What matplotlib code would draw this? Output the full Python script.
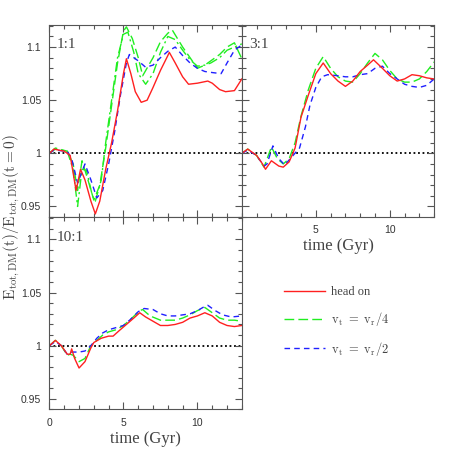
import matplotlib.pyplot as plt
from matplotlib.ticker import MultipleLocator, FuncFormatter

plt.rcParams['mathtext.fontset'] = 'cm'

# ---- 1:1 merger ----
t11_red = [0, 0.3, 1.0, 1.4, 1.8, 2.1, 2.4, 2.8, 3.1, 3.4, 3.8, 4.2, 4.6, 5.0, 5.2, 5.5, 5.8, 6.2,
           6.6, 7.0, 7.5, 8.0, 8.1, 8.5, 9.0, 9.4, 10.0, 10.7, 11.0, 11.5, 11.9, 12.5, 13.0]
e11_red = [1.0, 1.004, 1.002, 0.998, 0.965, 0.985, 0.975, 0.955, 0.943, 0.955, 0.985, 1.01, 1.04,
           1.075, 1.089, 1.075, 1.058, 1.048, 1.05, 1.062, 1.078, 1.092, 1.095, 1.085, 1.072, 1.065,
           1.066, 1.068, 1.066, 1.06, 1.058, 1.059, 1.07]
t11_blue = [0, 0.3, 1.2, 1.5, 1.9, 2.4, 2.8, 3.2, 3.6, 4.0, 4.4, 4.8, 5.2, 5.4, 6.0, 6.5, 7.0, 7.5,
            8.0, 8.5, 9.0, 9.5, 10.0, 10.5, 11.0, 11.6, 12.0, 12.5, 13.0]
e11_blue = [1.0, 1.003, 1.002, 0.995, 0.972, 0.99, 0.975, 0.958, 0.965, 0.99, 1.02, 1.055, 1.085,
            1.093, 1.087, 1.081, 1.083, 1.09, 1.096, 1.1, 1.092, 1.085, 1.08, 1.077, 1.076, 1.075,
            1.085, 1.097, 1.102]
t11_green = [0, 0.4, 1.2, 1.6, 1.9, 2.2, 2.6, 3.0, 3.4, 3.8, 4.2, 4.6, 5.0, 5.2, 5.6, 6.0, 6.3,
             7.0, 7.5, 8.0, 8.3, 9.0, 9.5, 10.0, 10.5, 11.0, 11.5, 12.0, 12.5, 13.0]
e11_green = [1.0, 1.005, 1.002, 0.99, 0.965, 0.993, 0.975, 0.956, 0.97, 1.005, 1.045, 1.085, 1.115,
             1.119, 1.108, 1.09, 1.073, 1.09, 1.105, 1.113, 1.116, 1.1, 1.09, 1.08, 1.083, 1.088,
             1.093, 1.1, 1.104, 1.089]
t11_green2 = [0, 0.4, 1.2, 1.6, 1.9, 2.2, 2.5, 2.9, 3.1, 3.5, 3.8, 4.2, 4.6, 5.0, 5.3, 5.7, 6.0,
              6.5, 7.0, 7.5, 8.0, 8.5, 9.0, 9.5, 10.0, 10.5, 10.9, 11.5, 12.0, 12.5, 13.0]
e11_green2 = [1.0, 1.004, 1.002, 0.985, 0.95, 0.985, 0.984, 0.96, 0.955, 0.975, 1.01, 1.05, 1.09,
              1.112, 1.114, 1.095, 1.075, 1.065, 1.075, 1.095, 1.11, 1.107, 1.097, 1.088, 1.082,
              1.083, 1.085, 1.09, 1.097, 1.1, 1.103]

# ---- 3:1 merger ----
t31_red = [0, 0.4, 1.0, 1.4, 1.6, 2.0, 2.5, 2.8, 3.2, 3.6, 4.0, 4.5, 5.0, 5.5, 6.0, 6.5, 7.0, 7.5,
           8.0, 8.5, 8.9, 9.5, 10.0, 10.5, 11.0, 11.5, 12.0, 12.5, 13.0]
e31_red = [1.0, 1.004, 0.998, 0.99, 0.985, 0.993, 0.988, 0.987, 0.992, 1.005, 1.034, 1.055, 1.075,
           1.085, 1.075, 1.068, 1.063, 1.068, 1.077, 1.083, 1.088, 1.08, 1.073, 1.068, 1.07, 1.074,
           1.073, 1.071, 1.07]
t31_green = [0, 0.4, 1.0, 1.5, 2.0, 2.4, 2.8, 3.2, 3.6, 4.0, 4.5, 5.0, 5.5, 6.0, 6.5, 7.0, 7.5,
             8.0, 8.5, 9.0, 9.5, 10.0, 10.5, 11.0, 11.5, 12.0, 12.5, 13.0]
e31_green = [1.0, 1.004, 0.998, 0.987, 1.006, 0.995, 0.99, 0.995, 1.01, 1.035, 1.06, 1.08, 1.091,
             1.08, 1.072, 1.068, 1.067, 1.075, 1.085, 1.094, 1.088, 1.078, 1.07, 1.067, 1.067,
             1.07, 1.077, 1.086]
t31_blue = [0, 0.4, 1.0, 1.5, 1.7, 2.1, 2.5, 2.9, 3.4, 3.9, 4.3, 4.6, 5.0, 5.4, 5.8, 6.5, 7.0, 7.5,
            8.0, 8.5, 9.0, 9.5, 10.0, 10.5, 11.0, 11.5, 12.0, 12.5, 13.0]
e31_blue = [1.0, 1.003, 0.998, 0.988, 0.99, 1.007, 0.995, 0.989, 0.997, 1.005, 1.025, 1.045, 1.062,
            1.072, 1.074, 1.073, 1.072, 1.072, 1.074, 1.075, 1.08, 1.082, 1.075, 1.07, 1.065,
            1.063, 1.062, 1.064, 1.07]

# ---- 10:1 merger ----
t101_red = [0, 0.4, 0.8, 1.2, 1.4, 1.5, 1.7, 2.0, 2.4, 2.8, 3.0, 3.5, 4.0, 4.3, 4.7, 5.2, 5.7, 6.1,
            6.5, 7.0, 7.5, 8.0, 8.5, 9.0, 9.5, 10.0, 10.5, 11.0, 11.5, 12.0, 12.5, 13.0]
e101_red = [1.0, 1.005, 1.0, 0.992, 0.992, 0.997, 0.988, 0.979, 0.985, 0.998, 1.003, 1.007, 1.009,
            1.009, 1.014, 1.02, 1.026, 1.031, 1.027, 1.023, 1.019, 1.019, 1.02, 1.022, 1.026, 1.028,
            1.031, 1.028, 1.022, 1.019, 1.018, 1.019]
t101_green = [0, 0.4, 0.8, 1.2, 1.4, 1.6, 2.0, 2.4, 2.8, 3.2, 3.6, 4.0, 4.5, 5.0, 5.5, 6.1, 6.3,
              6.8, 7.5, 8.0, 8.5, 9.0, 9.5, 10.0, 10.5, 11.0, 11.5, 12.0, 12.5, 13.0]
e101_green = [1.0, 1.005, 1.0, 0.991, 0.992, 0.991, 0.985, 0.988, 1.0, 1.005, 1.01, 1.013, 1.015,
              1.019, 1.025, 1.033, 1.034, 1.028, 1.024, 1.024, 1.024, 1.026, 1.029, 1.033, 1.036,
              1.031, 1.026, 1.024, 1.024, 1.023]
t101_blue = [0, 0.4, 0.8, 1.2, 1.5, 1.7, 2.0, 2.4, 2.8, 3.2, 3.6, 4.0, 4.5, 5.0, 5.5, 6.0, 6.4, 7.0,
             7.5, 8.0, 8.5, 9.0, 9.5, 10.0, 10.5, 10.7, 11.2, 11.7, 12.3, 13.0]
e101_blue = [1.0, 1.004, 1.0, 0.992, 0.994, 0.994, 0.994, 0.995, 1.0, 1.007, 1.012, 1.015, 1.017,
             1.019, 1.025, 1.032, 1.035, 1.034, 1.03, 1.028, 1.028, 1.029, 1.03, 1.033, 1.037,
             1.038, 1.033, 1.029, 1.027, 1.028]

labels = ['head on', r'$\mathrm{v_t\ =\ v_r/4}$', r'$\mathrm{v_t\ =\ v_r/2}$']
grey = '#555555'
red, green, blue = '#ff2020', '#20ee20', '#2020ff'
long_dash = (0, (7, 3))
short_dash = (0, (4, 3))
dash_dot = (0, (7, 2.5, 1.5, 2.5))

fig = plt.figure(figsize=(4.58, 4.58), dpi=100)
w = 0.420
ax1 = fig.add_axes([0.108, 0.526, w, w])
ax2 = fig.add_axes([0.108 + w, 0.526, w, w])
ax3 = fig.add_axes([0.108, 0.526 - w, w, w])

fmt = FuncFormatter(lambda v, p: '%g' % round(v, 3))
for ax in (ax1, ax2, ax3):
    ax.axhline(1.0, color='black', ls=(0, (1, 1.5)), lw=1.3, zorder=1)
    ax.set_xlim(0, 13)
    ax.set_ylim(0.94, 1.121)
    ax.xaxis.set_major_locator(MultipleLocator(5))
    ax.xaxis.set_minor_locator(MultipleLocator(1))
    ax.yaxis.set_major_locator(MultipleLocator(0.05))
    ax.yaxis.set_minor_locator(MultipleLocator(0.01))
    ax.yaxis.set_major_formatter(fmt)
    ax.tick_params(which='both', direction='in', top=True, right=True, color=grey,
                   labelcolor='#333333', labelsize=7.5, labelfontfamily='Liberation Sans')
    ax.tick_params(which='major', length=5, width=0.8, pad=6)
    ax.tick_params(which='minor', length=3, width=0.8)
    for s in ax.spines.values():
        s.set_color(grey)
        s.set_linewidth(0.8)

ax1.plot(t11_green, e11_green, color=green, ls=long_dash, lw=1)
ax1.plot(t11_green2, e11_green2, color=green, ls=dash_dot, lw=1)
ax1.plot(t11_blue, e11_blue, color=blue, ls=short_dash, lw=1)
ax1.plot(t11_red, e11_red, color=red, lw=1)
ax1.tick_params(labelbottom=False)

ax2.plot(t31_green, e31_green, color=green, ls=long_dash, lw=1)
ax2.plot(t31_blue, e31_blue, color=blue, ls=short_dash, lw=1)
ax2.plot(t31_red, e31_red, color=red, lw=1)
ax2.tick_params(labelleft=False)
ax2.set_xticks([5, 10])

l_g, = ax3.plot(t101_green, e101_green, color=green, ls=long_dash, lw=1)
l_b, = ax3.plot(t101_blue, e101_blue, color=blue, ls=short_dash, lw=1)
l_r, = ax3.plot(t101_red, e101_red, color=red, lw=1)

for ax, name in ((ax1, '1:1'), (ax2, '3:1'), (ax3, '10:1')):
    ax.text(0.04, 0.93, name, transform=ax.transAxes, fontsize=11, color='#444444',
            family='Liberation Serif', va='top')

ax2.set_xlabel('time (Gyr)', fontsize=12, color='#444444', family='Liberation Serif', labelpad=2)
ax3.set_xlabel('time (Gyr)', fontsize=12, color='#444444', family='Liberation Serif', labelpad=2)
fig.text(0.027, 0.526, r'$\mathrm{E_{tot,DM}(t)/E_{tot,DM}(t=0)}$', rotation=90,
         ha='center', va='center', fontsize=11, color='#444444')

fig.legend([l_r, l_g, l_b], labels, loc='upper left', bbox_to_anchor=(0.595, 0.40),
           frameon=False, handlelength=3.3, handletextpad=0.5, labelspacing=0.95,
           prop={'family': 'Liberation Serif', 'size': 9}, labelcolor='#444444')

fig.savefig('out.png', dpi=100)
